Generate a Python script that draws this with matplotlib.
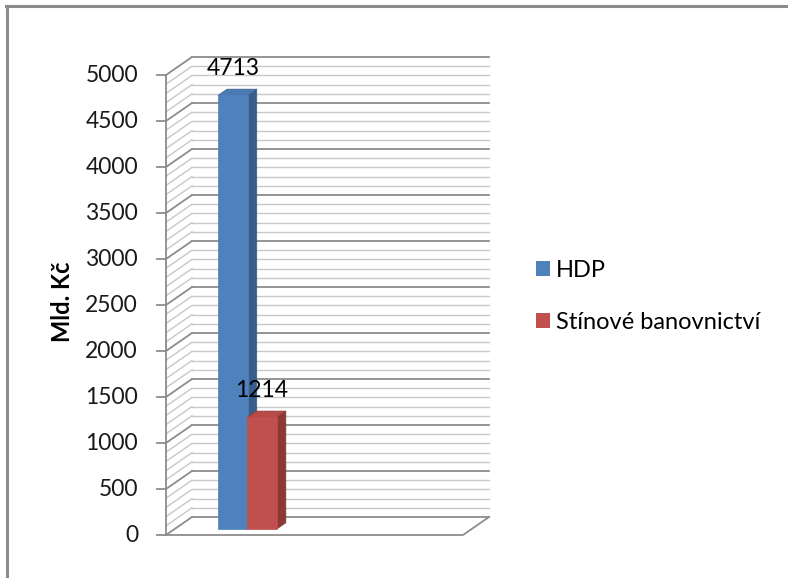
import matplotlib
matplotlib.use("Agg")
import matplotlib.pyplot as plt
from matplotlib.patches import Polygon, Patch
from matplotlib.lines import Line2D

plt.rcParams['font.family'] = ['Lato', 'DejaVu Sans']

# Data
series = ["HDP", "Stínové banovnictví"]
values = [4713, 1214]
y_ticks = [0, 500, 1000, 1500, 2000, 2500, 3000, 3500, 4000, 4500, 5000]
y_label = "Mld. Kč"

face_colors = ["#4F81BD", "#C0504D"]
side_colors = ["#385D8A", "#8C3836"]
top_colors = ["#4A79B3", "#B84B48"]

W, H = 788, 578
fig = plt.figure(figsize=(W / 100, H / 100), dpi=100)

# Front plane of the 3-D box, in figure pixels
ax_l, ax_r, ax_b, ax_t = 166, 463, 535, 75
ax = fig.add_axes([ax_l / W, 1 - ax_b / H, (ax_r - ax_l) / W, (ax_b - ax_t) / H])
ax.set_xlim(0, 1)
ax.set_ylim(0, 5000)
ax.axis("off")

# Depth offset of the back wall, in data units
DX = 26 / (ax_r - ax_l)
DV = 18 / ((ax_b - ax_t) / 5000)


def proj(x, v, d):
    return (x + d * DX, v + d * DV)


major_c = "#8C8C8C"
minor_c = "#C8C8C8"

# Back wall and side wall gridlines (every 100, majors every 500)
for v in range(0, 5001, 100):
    major = v % 500 == 0
    c = major_c if major else minor_c
    lw = 1.3 if major else 1.0
    z = 2 if major else 1
    p0 = proj(0, v, 0)
    p1 = proj(0, v, 1)
    p2 = proj(1, v, 1)
    ax.add_line(Line2D([p0[0], p1[0]], [p0[1], p1[1]], color=c, lw=lw, clip_on=False, zorder=z))
    ax.add_line(Line2D([p1[0], p2[0]], [p1[1], p2[1]], color=c, lw=lw, clip_on=False, zorder=z))

# Floor outline
f = [proj(0, 0, 0), proj(1, 0, 0), proj(1, 0, 1)]
ax.add_line(Line2D([p[0] for p in f], [p[1] for p in f], color=major_c, lw=1.3, clip_on=False, zorder=2))

# Value axis with outward ticks
ax.add_line(Line2D([0, 0], [0, 5000], color=major_c, lw=1.3, clip_on=False, zorder=3))
tick_len = 9 / (ax_r - ax_l)
for t in y_ticks:
    ax.add_line(Line2D([-tick_len, 0], [t, t], color=major_c, lw=1.3, clip_on=False, zorder=3))
    ax.text(-28 / (ax_r - ax_l), t, str(t), ha="right", va="center", fontsize=16.5, color="#1A1A1A")

ax.text(-104 / (ax_r - ax_l), 2500 * 1.015, y_label, rotation=90, ha="center", va="center",
        fontsize=17, fontweight="bold", color="black")

# 3-D columns
bar_x0 = [0.146, 0.244]
bar_w = 0.100
d0, d1 = 0.33, 0.68
for i, v in enumerate(values):
    x0 = bar_x0[i]
    x1 = x0 + bar_w
    front = [proj(x0, 0, d0), proj(x1, 0, d0), proj(x1, v, d0), proj(x0, v, d0)]
    side = [proj(x1, 0, d0), proj(x1, 0, d1), proj(x1, v, d1), proj(x1, v, d0)]
    top = [proj(x0, v, d0), proj(x1, v, d0), proj(x1, v, d1), proj(x0, v, d1)]
    z = 10 + i
    ax.add_patch(Polygon(side, closed=True, fc=side_colors[i], ec=side_colors[i], lw=0.5, clip_on=False, zorder=z))
    ax.add_patch(Polygon(top, closed=True, fc=top_colors[i], ec=side_colors[i], lw=0.5, clip_on=False, zorder=z))
    ax.add_patch(Polygon(front, closed=True, fc=face_colors[i], ec=face_colors[i], lw=0.5, clip_on=False, zorder=z))
    cx, cy = proj((x0 + x1) / 2, v, d0)
    ax.annotate(str(v), (cx, cy), xytext=(0, 27 * 0.72), textcoords="offset points",
                ha="center", va="center", fontsize=16.5, color="black", zorder=20,
                annotation_clip=False)

# Legend
handles = [Patch(fc=face_colors[i], ec="none") for i in range(len(series))]
fig.legend(handles, series, loc="upper left", bbox_to_anchor=(536 / W, 1 - 260 / H),
           frameon=False, fontsize=17, handlelength=0.58, handleheight=0.58,
           handletextpad=0.28, labelspacing=1.3, borderpad=0, borderaxespad=0)

# Chart frame (top and left edges)
fig.add_artist(Line2D([6 / W, 1], [1 - 6 / H, 1 - 6 / H], transform=fig.transFigure, color="#8C8C8C", lw=2.2))
fig.add_artist(Line2D([7 / W, 7 / W], [0, 1 - 6 / H], transform=fig.transFigure, color="#8C8C8C", lw=2.2))

fig.savefig("out.png", dpi=100)
